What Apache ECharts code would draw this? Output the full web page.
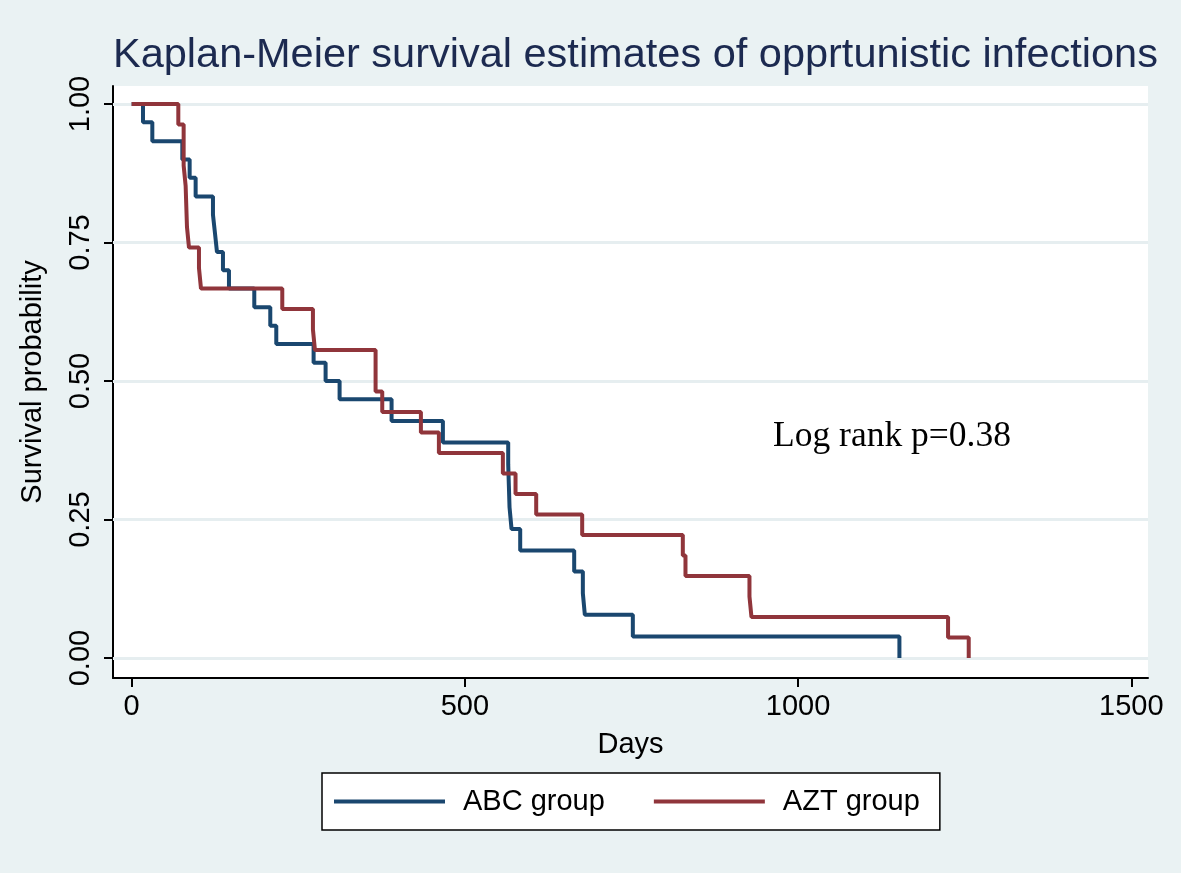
<!DOCTYPE html>
<html>
<head>
<meta charset="utf-8">
<script src="https://cdn.jsdelivr.net/npm/echarts@6/dist/echarts.min.js"></script>
<style>
html,body{margin:0;padding:0;background:#EAF2F3;}
#chart{width:1181px;height:873px;}
</style>
</head>
<body>
<div id="chart"></div>
<script>
// ---- data ----
const abcDays = [0,17,31,76,87,96,122,125,128,137,146,184,208,217,273,291,312,390,467,565,566,567,570,583,664,677,680,752,1152];
const abcSurv = [1,0.967,0.933,0.900,0.867,0.833,0.800,0.767,0.733,0.700,0.667,0.633,0.600,0.567,0.533,0.500,0.467,0.428,0.389,0.350,0.311,0.272,0.233,0.194,0.156,0.117,0.078,0.039,0];
const aztDays = [0,70,78,81,83,86,101,104,226,272,275,366,376,434,461,557,576,607,676,827,831,927,930,1225,1256];
const aztSurv = [1,0.963,0.889,0.852,0.778,0.741,0.704,0.667,0.630,0.593,0.556,0.481,0.444,0.407,0.370,0.333,0.296,0.259,0.222,0.185,0.148,0.111,0.074,0.037,0];
const xTicks = [0,500,1000,1500];
const yTicks = [0,0.25,0.5,0.75,1];
const seriesNames = ['ABC group','AZT group'];
const titleText = 'Kaplan-Meier survival estimates of opprtunistic infections';
const noteText = 'Log rank p=0.38';

const FONT = '"Liberation Sans", Arial, sans-serif';
const toPairs = (xs, ys) => xs.map((x, i) => [x, ys[i]]);

const chart = echarts.init(document.getElementById('chart'), null, {renderer: 'canvas'});
chart.setOption({
  backgroundColor: '#EAF2F3',
  animation: false,
  title: [{
    text: titleText,
    left: 113,
    top: 35,
    padding: 0,
    textStyle: {fontFamily: FONT, fontSize: 41.5, fontWeight: 'normal', color: '#1c2a50'}
  }, {
    text: noteText,
    left: 773,
    top: 419,
    padding: 0,
    textStyle: {fontFamily: '"Liberation Serif", "Times New Roman", serif', fontSize: 35.5, fontWeight: 'normal', color: '#000'}
  }],
  grid: {
    left: 113, right: 33, top: 86, bottom: 195,
    show: true, backgroundColor: '#ffffff', borderWidth: 0
  },
  xAxis: {
    type: 'value',
    min: -28, max: 1525,
    name: 'Days',
    nameLocation: 'middle',
    nameGap: 52,
    nameTextStyle: {fontFamily: FONT, fontSize: 29, color: '#000'},
    axisLine: {show: true, onZero: false, lineStyle: {color: '#000', width: 2}},
    axisTick: {show: true, customValues: xTicks, length: 9, lineStyle: {color: '#000', width: 2}},
    axisLabel: {customValues: xTicks, fontFamily: FONT, fontSize: 29, color: '#000', margin: 14,
      formatter: v => String(v)},
    splitLine: {show: false}
  },
  yAxis: {
    type: 'value',
    min: -0.036, max: 1.0325,
    name: 'Survival probability',
    nameLocation: 'middle',
    nameGap: 66,
    nameRotate: 90,
    nameTextStyle: {fontFamily: FONT, fontSize: 29, color: '#000'},
    axisLine: {show: true, onZero: false, lineStyle: {color: '#000', width: 2}},
    axisTick: {show: true, customValues: yTicks, length: 9, lineStyle: {color: '#000', width: 2}},
    axisLabel: {customValues: yTicks, rotate: 90, fontFamily: FONT, fontSize: 29, color: '#000', margin: 18,
      formatter: v => v.toFixed(2)},
    splitLine: {show: false}
  },
  legend: {
    data: seriesNames,
    left: 322, top: 773,
    orient: 'horizontal',
    backgroundColor: '#ffffff',
    borderColor: '#000', borderWidth: 1.5, borderRadius: 0,
    padding: [14, 20, 14, 12],
    icon: 'rect',
    itemWidth: 111, itemHeight: 4, itemGap: 49,
    textStyle: {fontFamily: FONT, fontSize: 29, color: '#000', padding: [0, 0, 0, 13]}
  },
  series: [{
    name: 'grid',
    type: 'line',
    data: [],
    silent: true,
    z: 1,
    markLine: {
      silent: true, symbol: 'none', animation: false, z: 1,
      label: {show: false},
      lineStyle: {color: '#E6EEF0', width: 3, type: 'solid'},
      data: yTicks.map(v => ({yAxis: v}))
    }
  }, {
    name: seriesNames[0],
    type: 'line',
    step: 'end',
    symbol: 'none',
    z: 10,
    color: '#1A476F',
    lineStyle: {color: '#1A476F', width: 4},
    data: toPairs(abcDays, abcSurv)
  }, {
    name: seriesNames[1],
    type: 'line',
    step: 'end',
    symbol: 'none',
    z: 10,
    color: '#90353B',
    lineStyle: {color: '#90353B', width: 4},
    data: toPairs(aztDays, aztSurv)
  }]
});
</script>
</body>
</html>
